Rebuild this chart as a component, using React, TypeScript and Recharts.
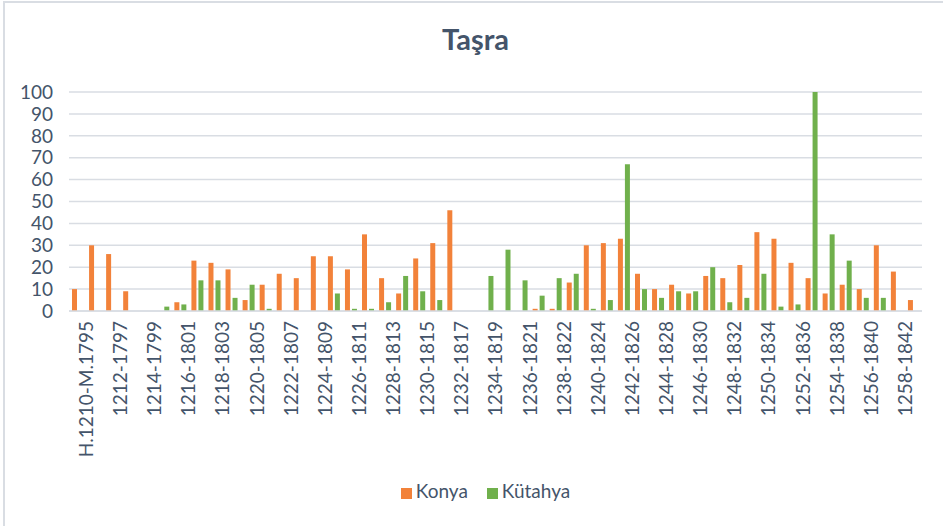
import { BarChart, Bar, XAxis, YAxis, CartesianGrid, Legend } from "recharts";

const periods = [
  "H.1210-M.1795", "1211-1796", "1212-1797", "1213-1798", "1214-1799",
  "1215-1800", "1216-1801", "1217-1802", "1218-1803", "1219-1804",
  "1220-1805", "1221-1806", "1222-1807", "1223-1808", "1224-1809",
  "1225-1810", "1226-1811", "1227-1812", "1228-1813", "1229-1814",
  "1230-1815", "1231-1816", "1232-1817", "1233-1818", "1234-1819",
  "1235-1820", "1236-1821", "1237-1822", "1238-1822", "1239-1823",
  "1240-1824", "1241-1825", "1242-1826", "1243-1827", "1244-1828",
  "1245-1829", "1246-1830", "1247-1831", "1248-1832", "1249-1833",
  "1250-1834", "1251-1835", "1252-1836", "1253-1837", "1254-1838",
  "1255-1839", "1256-1840", "1257-1841", "1258-1842", "1259-1843",
];

const konya = [
  10, 30, 26, 9, 0, 0, 4, 23, 22, 19,
  5, 12, 17, 15, 25, 25, 19, 35, 15, 8,
  24, 31, 46, 0, 0, 0, 0, 1, 1, 13,
  30, 31, 33, 17, 10, 12, 8, 16, 15, 21,
  36, 33, 22, 15, 8, 12, 10, 30, 18, 5,
];

const kutahya = [
  0, 0, 0, 0, 0, 2, 3, 14, 14, 6,
  12, 1, 0, 0, 0, 8, 1, 1, 4, 16,
  9, 5, 0, 0, 16, 28, 14, 7, 15, 17,
  1, 5, 67, 10, 6, 9, 9, 20, 4, 6,
  17, 2, 3, 100, 35, 23, 6, 6, 0, 0,
];

const yTicks = [0, 10, 20, 30, 40, 50, 60, 70, 80, 90, 100];

const data = periods.map((p, i) => ({
  period: p,
  Konya: konya[i],
  Kütahya: kutahya[i],
}));

const textColor = "#44546A";
const font = "Lato, 'Open Sans', sans-serif";

export default function App() {
  return (
    <div
      style={{
        position: "absolute",
        left: 0,
        top: 0,
        width: 943,
        height: 526,
        background: "#fff",
        fontFamily: font,
      }}
    >
      {/* chart frame, only left and top edges show in the picture */}
      <div
        style={{
          position: "absolute",
          left: 3,
          top: 1,
          width: 960,
          height: 540,
          borderLeft: "2px solid #D9DDE3",
          borderTop: "2px solid #D9DDE3",
        }}
      />
      <div
        style={{
          position: "absolute",
          left: 0,
          width: 943,
          top: 21,
          textAlign: "center",
          fontSize: 29,
          fontWeight: 700,
          color: textColor,
          paddingLeft: 4,
        }}
      >
        Taşra
      </div>
      <div style={{ position: "absolute", left: 0, top: 0 }}>
        <BarChart
          width={943}
          height={526}
          data={data}
          margin={{ top: 92, right: 21, bottom: 24, left: 0 }}
          barSize={5}
          barGap={2}
        >
          <CartesianGrid
            vertical={false}
            stroke="#D9DDE3"
            strokeWidth={1.5}
          />
          <XAxis
            dataKey="period"
            interval={1}
            tickLine={false}
            axisLine={{ stroke: "#D9DDE3", strokeWidth: 1.5 }}
            height={168}
            tick={{
              angle: -90,
              textAnchor: "end",
              verticalAnchor: "middle",
              fill: textColor,
              fontSize: 19,
              fontFamily: font,
              dx: 2,
            }}
            tickMargin={4}
          />
          <YAxis
            domain={[0, 100]}
            ticks={yTicks}
            interval={0}
            width={69}
            tickLine={false}
            axisLine={false}
            tickMargin={10}
            tick={{ fill: textColor, fontSize: 19, fontFamily: font }}
          />
          <Legend
            verticalAlign="bottom"
            iconType="square"
            iconSize={11}
            wrapperStyle={{ fontSize: 19, color: textColor, paddingLeft: 34, bottom: 24 }}
            formatter={(v) => (
              <span style={{ color: textColor, marginRight: 9 }}>{v}</span>
            )}
          />
          <Bar dataKey="Konya" fill="#F2823A" isAnimationActive={false} />
          <Bar dataKey="Kütahya" fill="#70B04C" isAnimationActive={false} />
        </BarChart>
      </div>
    </div>
  );
}
